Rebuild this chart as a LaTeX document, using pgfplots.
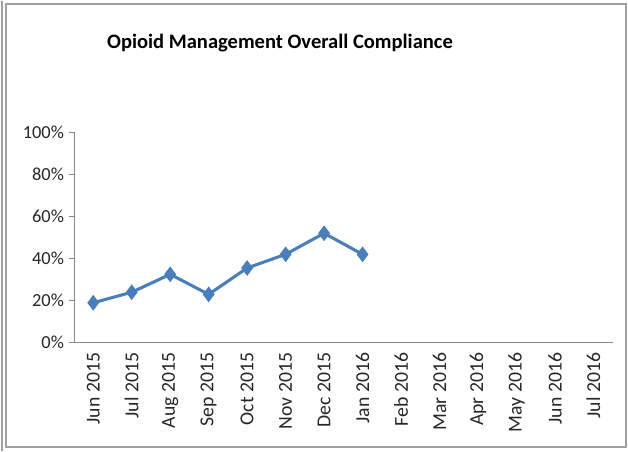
\documentclass[border=0pt]{standalone}
\usepackage{pgfplots}
\pgfplotsset{compat=1.18}
\usepackage{fontspec}
\setmainfont{Carlito}
\definecolor{lineblue}{HTML}{4A7EBB}
\definecolor{axgray}{HTML}{868686}
\definecolor{frame}{HTML}{A0A0A0}
\begin{document}
\begin{tikzpicture}
\begin{scope}[x=0.75pt,y=0.75pt]
% page extent
\path (0,0) rectangle (628,450);
% frame
\draw[frame,line width=1.2pt] (6,4) rectangle (626,447);
\draw[frame,line width=1.2pt] (2,0) -- (2,450);
% title
\node[font=\fontsize{15.4}{18}\selectfont\bfseries] at (280,408) {Opioid Management Overall Compliance};
\end{scope}
\begin{axis}[
  at={(55.5pt,81pt)}, anchor=south west,
  scale only axis, width=404pt, height=158pt,
  xmin=-0.5, xmax=13.5, ymin=0, ymax=1,
  axis x line=bottom, axis y line=left,
  axis line style={axgray,-, line width=0.6pt},
  xtick={0,...,13},
  xticklabels={Jun 2015,Jul 2015,Aug 2015,Sep 2015,Oct 2015,Nov 2015,Dec 2015,Jan 2016,Feb 2016,Mar 2016,Apr 2016,May 2016,Jun 2016,Jul 2016},
  xticklabel style={rotate=90, anchor=east, font=\fontsize{14.8}{16}\selectfont, text=black!85},
  major x tick style={draw=none},
  extra x ticks={-0.5,0.5,...,13.5},
  extra x tick labels={},
  extra x tick style={major tick length=5pt, tick align=outside, tick style={axgray, line width=0.6pt}},
  ytick={0,0.2,...,1},
  yticklabels={0\%,20\%,40\%,60\%,80\%,100\%},
  yticklabel style={font=\fontsize{13.8}{15}\selectfont, text=black!85},
  tick align=outside, major tick length=4pt,
  tick style={axgray, line width=0.6pt},
  /pgf/number format/assume math mode=true,
  clip=false,
]
\addplot[lineblue, line width=2.3pt, mark=diamond*, mark size=5.5pt, mark options={fill=lineblue, line width=0.5pt}]
coordinates {(0,0.19) (1,0.24) (2,0.325) (3,0.23) (4,0.355) (5,0.42) (6,0.52) (7,0.42)};
\end{axis}
\end{tikzpicture}
\end{document}
